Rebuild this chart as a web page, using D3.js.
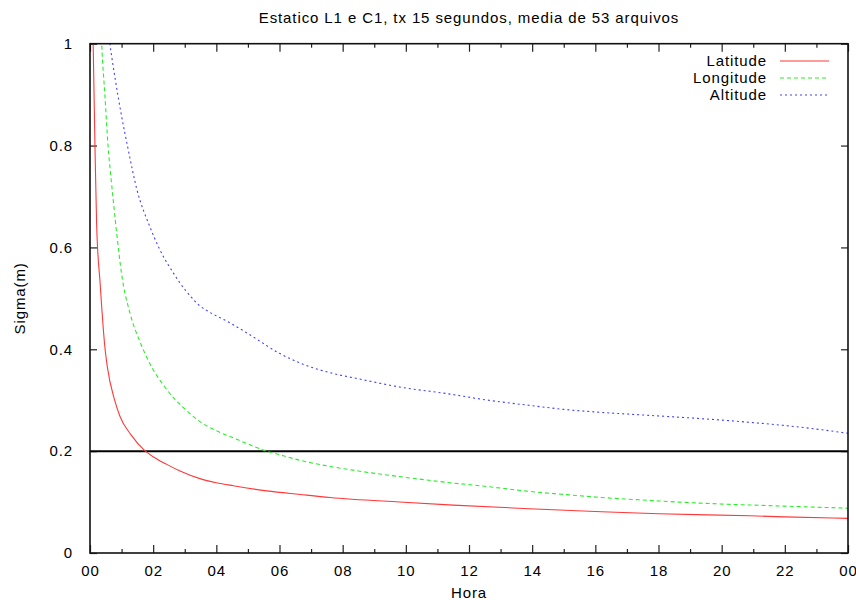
<!DOCTYPE html>
<html>
<head>
<meta charset="utf-8">
<script src="https://cdn.jsdelivr.net/npm/d3@7"></script>
<style>
  html, body { margin: 0; padding: 0; background: #fff; }
  svg { display: block; font-family: "Liberation Sans", Arial, sans-serif; }
  svg text { letter-spacing: 0.9px; }
</style>
</head>
<body>
<svg id="chart" width="856" height="600"></svg>
<script>
// Sigma (m) averaged over 53 files, by elapsed hour
const latHours  = [0.05, 0.1, 0.16, 0.21, 0.32, 0.47, 0.55, 0.78, 0.95, 1.3, 1.72, 2.0, 2.43, 2.85, 3.48, 4.0, 4.54, 5.6, 6.65, 7.6, 9.8, 11.5, 13.9, 16.2, 18.0, 20.9, 22.0, 24.0];
const latSigma  = [1.20, 1.00, 0.79, 0.645, 0.53, 0.405, 0.365, 0.30, 0.268, 0.232, 0.202, 0.189, 0.174, 0.161, 0.146, 0.138, 0.132, 0.122, 0.115, 0.109, 0.100, 0.094, 0.087, 0.081, 0.077, 0.073, 0.071, 0.068];

const lonHours  = [0.3, 0.37, 0.475, 0.57, 0.66, 0.74, 0.85, 1.0, 1.27, 1.58, 2.0, 2.32, 2.64, 3.0, 3.48, 4.0, 4.54, 5.0, 5.49, 6.0, 6.65, 7.6, 8.5, 9.8, 11.4, 12.5, 13.9, 15.0, 16.2, 17.5, 19.3, 21.0, 22.5, 24.0];
const lonSigma  = [1.12, 1.00, 0.896, 0.80, 0.74, 0.69, 0.625, 0.548, 0.47, 0.415, 0.36, 0.33, 0.305, 0.283, 0.258, 0.240, 0.226, 0.214, 0.202, 0.193, 0.182, 0.170, 0.161, 0.150, 0.138, 0.131, 0.121, 0.115, 0.109, 0.104, 0.098, 0.094, 0.091, 0.088];

const altHours  = [0.55, 0.63, 0.8, 1.0, 1.2, 1.48, 1.9, 2.2, 2.69, 2.85, 3.2, 3.48, 3.7, 4.43, 5.1, 6.0, 6.65, 7.6, 8.5, 9.8, 11.4, 12.5, 13.9, 15.0, 16.2, 17.5, 19.3, 21.0, 22.5, 24.0];
const altSigma  = [1.04, 1.00, 0.93, 0.858, 0.795, 0.715, 0.64, 0.597, 0.545, 0.530, 0.503, 0.485, 0.476, 0.452, 0.427, 0.392, 0.373, 0.354, 0.342, 0.326, 0.312, 0.301, 0.290, 0.282, 0.276, 0.271, 0.264, 0.256, 0.247, 0.235];

const seriesNames = ["Latitude", "Longitude", "Altitude"];
const referenceSigma = 0.2;

const xTicks = [0, 2, 4, 6, 8, 10, 12, 14, 16, 18, 20, 22, 24];
const xTickLabels = ["00", "02", "04", "06", "08", "10", "12", "14", "16", "18", "20", "22", "00"];
const xMinorTicks = [1, 3, 5, 7, 9, 11, 13, 15, 17, 19, 21, 23];
const yTicks = [0, 0.2, 0.4, 0.6, 0.8, 1];
const yTickLabels = ["0", "0.2", "0.4", "0.6", "0.8", "1"];

const title = "Estatico L1 e C1, tx 15 segundos, media de 53 arquivos";
const xTitle = "Hora";
const yTitle = "Sigma(m)";

// ---- layout ----
const svg = d3.select("#chart");
const plot = { left: 90, right: 848, top: 43.7, bottom: 553 };
const fontSize = 15;

const x = d3.scaleLinear().domain([0, 24]).range([plot.left, plot.right]);
const y = d3.scaleLinear().domain([0, 1]).range([plot.bottom, plot.top]);

const styles = [
  { color: "#ff3838", dash: null },
  { color: "#28ee28", dash: "4,3" },
  { color: "#4040ff", dash: "2,3" }
];

svg.append("defs").append("clipPath").attr("id", "plotClip")
  .append("rect")
  .attr("x", plot.left).attr("y", plot.top)
  .attr("width", plot.right - plot.left).attr("height", plot.bottom - plot.top);

// ---- axes (with mirrored ticks) ----
const tickStroke = "#222";
const bottomAxis = d3.axisBottom(x).tickValues(xTicks)
  .tickFormat((d, i) => xTickLabels[i]).tickSizeInner(-8).tickSizeOuter(0).tickPadding(12);
const gB = svg.append("g").attr("transform", `translate(0,${plot.bottom})`).call(bottomAxis);

const gBm = svg.append("g").attr("transform", `translate(0,${plot.bottom})`)
  .call(d3.axisBottom(x).tickValues(xMinorTicks).tickFormat("").tickSizeInner(-4).tickSizeOuter(0));

const gT = svg.append("g").attr("transform", `translate(0,${plot.top})`)
  .call(d3.axisTop(x).tickValues(xTicks).tickFormat("").tickSizeInner(-8).tickSizeOuter(0));
const gTm = svg.append("g").attr("transform", `translate(0,${plot.top})`)
  .call(d3.axisTop(x).tickValues(xMinorTicks).tickFormat("").tickSizeInner(-4).tickSizeOuter(0));

const gL = svg.append("g").attr("transform", `translate(${plot.left},0)`)
  .call(d3.axisLeft(y).tickValues(yTicks).tickFormat((d, i) => yTickLabels[i])
    .tickSizeInner(-7).tickSizeOuter(0).tickPadding(17));
const gR = svg.append("g").attr("transform", `translate(${plot.right},0)`)
  .call(d3.axisRight(y).tickValues(yTicks).tickFormat("").tickSizeInner(-7).tickSizeOuter(0));

[gB, gBm, gT, gTm, gL, gR].forEach(g => {
  g.select(".domain").remove();
  g.selectAll(".tick line").attr("stroke", tickStroke).attr("stroke-width", 1.2);
  g.selectAll("text").attr("font-family", "Liberation Sans, Arial, sans-serif")
    .attr("font-size", fontSize).attr("fill", "#000");
});

// ---- reference threshold ----
svg.append("line")
  .attr("x1", x(0)).attr("x2", x(24))
  .attr("y1", y(referenceSigma)).attr("y2", y(referenceSigma))
  .attr("stroke", "#000").attr("stroke-width", 2);

// ---- series ----
const data = [
  d3.zip(latHours, latSigma),
  d3.zip(lonHours, lonSigma),
  d3.zip(altHours, altSigma)
];

const line = d3.line()
  .x(d => x(d[0])).y(d => y(d[1]))
  .curve(d3.curveMonotoneX);

const lines = svg.append("g").attr("clip-path", "url(#plotClip)");
data.forEach((pts, i) => {
  lines.append("path")
    .attr("d", line(pts))
    .attr("fill", "none")
    .attr("stroke", styles[i].color)
    .attr("stroke-width", 1.1)
    .attr("stroke-dasharray", styles[i].dash);
});

// ---- border ----
svg.append("rect")
  .attr("x", plot.left).attr("y", plot.top)
  .attr("width", plot.right - plot.left).attr("height", plot.bottom - plot.top)
  .attr("fill", "none").attr("stroke", "#111").attr("stroke-width", 1.6);

// ---- legend ----
const legend = svg.append("g");
seriesNames.forEach((name, i) => {
  const cy = 61 + i * 17;
  legend.append("text")
    .attr("x", 767).attr("y", cy).attr("dy", "0.35em")
    .attr("text-anchor", "end").attr("font-size", fontSize).attr("fill", "#000")
    .text(name);
  legend.append("line")
    .attr("x1", 780).attr("x2", 829).attr("y1", cy).attr("y2", cy)
    .attr("stroke", styles[i].color).attr("stroke-width", 1.1)
    .attr("stroke-dasharray", styles[i].dash);
});

// ---- titles ----
svg.append("text")
  .attr("x", (plot.left + plot.right) / 2).attr("y", 18).attr("dy", "0.35em")
  .attr("text-anchor", "middle").attr("font-size", fontSize).attr("fill", "#000")
  .text(title);

svg.append("text")
  .attr("x", (plot.left + plot.right) / 2).attr("y", 593).attr("dy", "0.35em")
  .attr("text-anchor", "middle").attr("font-size", fontSize).attr("fill", "#000")
  .text(xTitle);

svg.append("text")
  .attr("transform", `translate(20,${(plot.top + plot.bottom) / 2}) rotate(-90)`)
  .attr("dy", "0.35em")
  .attr("text-anchor", "middle").attr("font-size", fontSize).attr("fill", "#000")
  .text(yTitle);
</script>
</body>
</html>
